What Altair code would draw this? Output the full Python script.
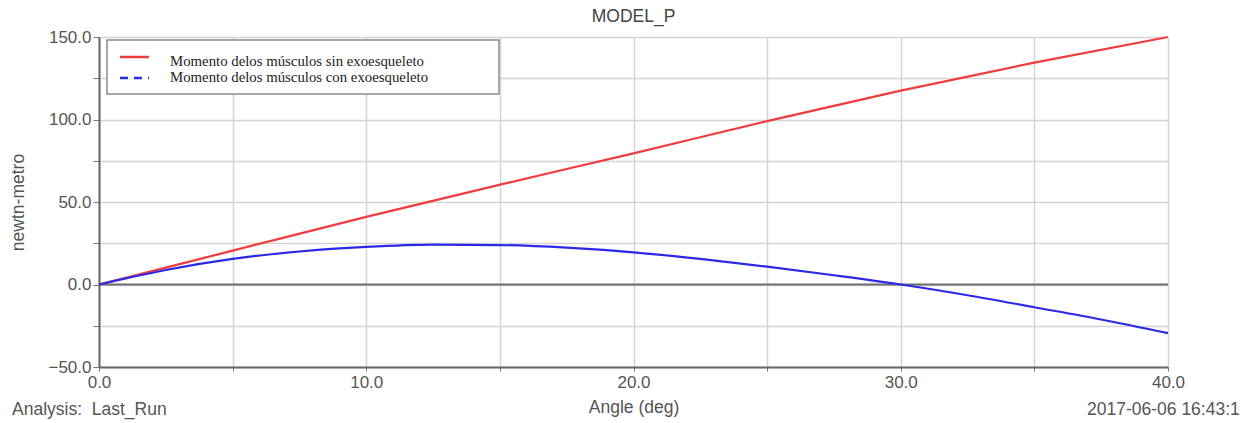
import altair as alt
import pandas as pd

# ---- data ----
angle_red = [0, 5, 10, 15, 20, 25, 30, 35, 40]
moment_sin = [0, 20.5, 41, 60.5, 79.5, 99, 117.5, 134.5, 150]

angle_blue = [0, 1, 2.5, 5, 7.5, 10, 12.5, 15, 17.5, 20, 22.5, 25, 27.5, 30, 32.5, 35, 37.5, 40]
moment_con = [0, 3.7, 8.8, 15.5, 20.0, 22.8, 24.2, 23.9, 22.3, 19.5, 15.5, 10.8, 5.6, 0, -6.5, -13.8, -21.2, -29.5]

series_names = ["Momento delos músculos sin exoesqueleto", "Momento delos músculos con exoesqueleto"]
series_colors = ["#f03c3c", "#2a2ae6"]

y_ticks = [-50, -25, 0, 25, 50, 75, 100, 125, 150]
x_ticks = [0, 5, 10, 15, 20, 25, 30, 35, 40]

title_text = "MODEL_P"
y_title = "newtn-metro"
x_title = "Angle (deg)"
footer_left = "Analysis:\u00a0 Last_Run"
footer_right = "2017-06-06 16:43:1"

df = pd.concat([
    pd.DataFrame({"angle": angle_red, "moment": moment_sin, "serie": series_names[0]}),
    pd.DataFrame({"angle": angle_blue, "moment": moment_con, "serie": series_names[1]}),
])

W, H = 1069, 330
label_color = "#555555"
sans = "Liberation Sans"
serif = "Liberation Serif"

x_enc = alt.X(
    "angle:Q",
    scale=alt.Scale(domain=[0, 40], nice=False, zero=False),
    axis=alt.Axis(
        values=x_ticks,
        labelExpr="datum.value % 10 == 0 ? format(datum.value, '.1f') : ''",
        title=x_title,
        titleFont=sans, titleFontSize=17.5, titleFontWeight="normal", titleColor=label_color,
        titlePadding=8,
        labelFont=sans, labelFontSize=17, labelColor=label_color, labelPadding=3,
        labelFlush=False,
        grid=True, gridColor="#d4d4d4", gridWidth=1.5,
        tickColor="#777777", tickSize=4,
        domainColor="#666666", domainWidth=2,
    ),
)
y_enc = alt.Y(
    "moment:Q",
    scale=alt.Scale(domain=[-50, 150], nice=False, zero=False),
    axis=alt.Axis(
        values=y_ticks,
        labelExpr="datum.value % 50 == 0 ? format(datum.value, '.1f') : ''",
        title=y_title,
        titleFont=sans, titleFontSize=17.5, titleFontWeight="normal", titleColor=label_color,
        titlePadding=20,
        labelFont=sans, labelFontSize=17, labelColor=label_color, labelPadding=2,
        labelFlush=False,
        grid=True, gridColor="#d4d4d4", gridWidth=1.5,
        tickColor="#777777", tickSize=6,
        domainColor="#666666", domainWidth=2,
    ),
)

lines = alt.Chart(df).mark_line(strokeWidth=2.2, interpolate="monotone").encode(
    x=x_enc,
    y=y_enc,
    color=alt.Color("serie:N", scale=alt.Scale(domain=series_names, range=series_colors), legend=None),
)

zero_df = pd.DataFrame({"moment": [0]})
zero_rule = alt.Chart(zero_df).mark_rule(color="#6e6e6e", strokeWidth=2).encode(y="moment:Q")

# ---- manual legend box ----
legend_box = alt.Chart(zero_df).mark_rect(fill="white", stroke="#8a8a8a", strokeWidth=1.5).encode(
    x=alt.value(8), x2=alt.value(400), y=alt.value(3), y2=alt.value(57)
)
leg_red = alt.Chart(zero_df).mark_rule(color=series_colors[0], strokeWidth=2.5).encode(
    x=alt.value(21), x2=alt.value(50), y=alt.value(20)
)
leg_blue = alt.Chart(zero_df).mark_rule(color=series_colors[1], strokeWidth=2.5, strokeDash=[8, 6]).encode(
    x=alt.value(21), x2=alt.value(50), y=alt.value(41)
)
leg_t1 = alt.Chart(zero_df).mark_text(
    text=series_names[0], font=serif, fontSize=14.8, color="#222222", align="left", baseline="middle"
).encode(x=alt.value(71), y=alt.value(25))
leg_t2 = alt.Chart(zero_df).mark_text(
    text=series_names[1], font=serif, fontSize=14.8, color="#222222", align="left", baseline="middle"
).encode(x=alt.value(71), y=alt.value(41))

foot_l = alt.Chart(zero_df).mark_text(
    text=footer_left, font=sans, fontSize=17.5, color=label_color, align="left", baseline="middle"
).encode(x=alt.value(-87), y=alt.value(H + 43))
foot_r = alt.Chart(zero_df).mark_text(
    text=footer_right, font=sans, fontSize=17.5, color=label_color, align="left", baseline="middle"
).encode(x=alt.value(988), y=alt.value(H + 43))

chart = alt.layer(
    zero_rule, lines, legend_box, leg_red, leg_blue, leg_t1, leg_t2, foot_l, foot_r
).properties(
    width=W,
    height=H,
    title=alt.TitleParams(title_text, font=sans, fontSize=17.5, fontWeight="normal",
                          color="#444444", anchor="middle", offset=3),
    autosize=alt.AutoSizeParams(type="none"),
    padding={"left": 99, "top": 37, "right": 80, "bottom": 56},
).configure_view(
    stroke="#8a8a8a", strokeWidth=1.5
).configure(background="white")

chart.save("out.html", embed_options={"renderer": "svg", "actions": False})
